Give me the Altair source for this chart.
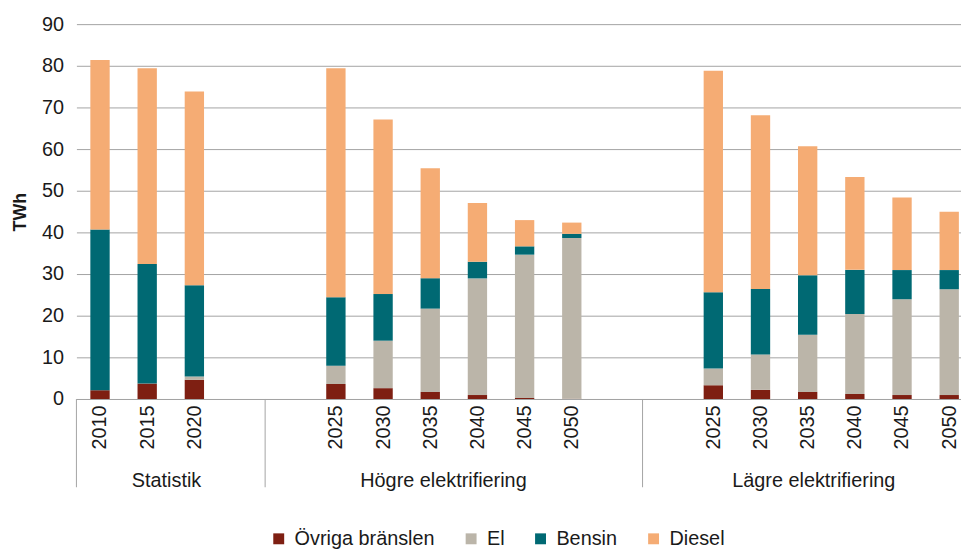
import altair as alt
import pandas as pd

# ---- data ----
# 19 category slots (empty strings are the gaps between the groups)
slot_labels = ["2010", "2015", "2020", "", "",
               "2025", "2030", "2035", "2040", "2045", "2050", "", "",
               "2025", "2030", "2035", "2040", "2045", "2050"]
bar_pos = [0, 1, 2, 5, 6, 7, 8, 9, 10, 13, 14, 15, 16, 17, 18]
series = ["Övriga bränslen", "El", "Bensin", "Diesel"]
colors = ["#7e1f12", "#bbb5a9", "#006973", "#f5ac74"]

ovriga = [2.1, 3.7, 4.6, 3.6, 2.6, 1.7, 0.95, 0.25, 0.05, 3.3, 2.2, 1.7, 1.2, 0.95, 0.95]
el     = [0.0, 0.0, 0.8, 4.4, 11.4, 20.0, 28.0, 34.4, 38.6, 4.0, 8.5, 13.7, 19.2, 23.0, 25.4]
bensin = [38.6, 28.7, 21.9, 16.4, 11.2, 7.3, 4.0, 2.0, 1.0, 18.3, 15.7, 14.3, 10.6, 7.0, 4.6]
diesel = [40.7, 47.0, 46.5, 55.0, 41.9, 26.4, 14.1, 6.3, 2.7, 53.2, 41.7, 31.0, 22.3, 17.4, 14.0]

group_names = ["Statistik", "Högre elektrifiering", "Lägre elektrifiering"]
group_pos = [1.41, 7.28, 15.13]
separator_pos = [-0.5, 3.5, 11.5]

rows = []
for i, p in enumerate(bar_pos):
    for k, (name, vals) in enumerate(zip(series, [ovriga, el, bensin, diesel])):
        rows.append({"pos": p, "serie": name, "value": vals[i], "k": k})
df = pd.DataFrame(rows)

TXT = "#1a1a1a"
GRID = "#a3a3a3"
FS = 20

label_array = "[" + ",".join("'%s'" % s for s in slot_labels) + "]"
xscale = alt.Scale(domain=[-0.5, 18.25], nice=False, zero=False, padding=0)

bars = alt.Chart(df).mark_bar(size=19.5).encode(
    x=alt.X("pos:Q", scale=xscale, title=None,
            axis=alt.Axis(values=bar_pos, labelAngle=-90, labelFontSize=FS, labelColor=TXT,
                          labelPadding=6, ticks=False, grid=False, domainColor=GRID,
                          labelFlush=False, labelOverlap=False,
                          labelExpr=label_array + "[datum.value]")),
    y=alt.Y("sum(value):Q", scale=alt.Scale(domain=[0, 90], nice=False),
            title="TWh",
            axis=alt.Axis(values=list(range(0, 91, 10)), labelFontSize=FS, labelColor=TXT,
                          labelPadding=13, ticks=False, domain=False, gridColor=GRID,
                          titleFontSize=18, titleFontWeight="bold", titleColor=TXT,
                          titlePadding=12)),
    color=alt.Color("serie:N", scale=alt.Scale(domain=series, range=colors),
                    legend=alt.Legend(title=None, orient="none", direction="horizontal",
                                      legendX=194, legendY=509, symbolType="square",
                                      symbolSize=121, symbolStrokeWidth=0,
                                      labelFontSize=FS, labelColor=TXT, labelOffset=6,
                                      columnPadding=26, padding=0)),
    order=alt.Order("k:Q", sort="ascending"),
)

seps = alt.Chart(pd.DataFrame({"pos": separator_pos})).mark_rule(color=GRID, strokeWidth=1).encode(
    x=alt.X("pos:Q", scale=xscale),
    y=alt.value(378), y2=alt.value(467),
)

groups = alt.Chart(pd.DataFrame({"pos": group_pos, "label": group_names})).mark_text(
    fontSize=FS, color=TXT, align="center", baseline="alphabetic"
).encode(
    x=alt.X("pos:Q", scale=xscale),
    y=alt.value(467),
    text="label:N",
)

chart = alt.layer(bars, seps, groups).properties(
    width=892, height=378,
    autosize=alt.AutoSizeParams(type="none"),
    padding={"left": 69, "top": 14, "right": 0, "bottom": 149},
).configure(font="Liberation Sans").configure_view(stroke=None)

chart.save("out.html", embed_options={"renderer": "svg", "actions": False})
